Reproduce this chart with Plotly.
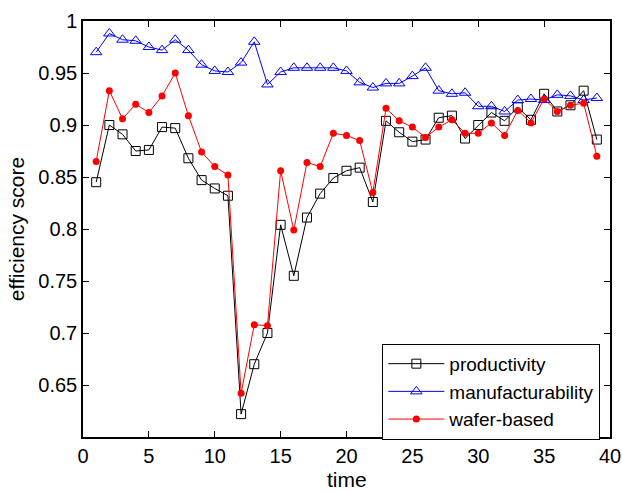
import plotly.graph_objects as go

time = list(range(1, 40))

productivity = [0.845, 0.900, 0.891, 0.875, 0.876, 0.898, 0.897, 0.868, 0.847, 0.839,
                0.832, 0.622, 0.670, 0.700, 0.804, 0.755, 0.811, 0.834, 0.849, 0.856,
                0.859, 0.826, 0.904, 0.893, 0.884, 0.886, 0.907, 0.909, 0.887, 0.900,
                0.912, 0.904, 0.917, 0.905, 0.930, 0.913, 0.919, 0.933, 0.886]

manufacturability = [0.970, 0.988, 0.982, 0.981, 0.975, 0.972, 0.982, 0.972, 0.958, 0.952,
                     0.951, 0.960, 0.980, 0.939, 0.951, 0.955, 0.955, 0.955, 0.955, 0.952,
                     0.941, 0.936, 0.940, 0.940, 0.947, 0.955, 0.933, 0.930, 0.931, 0.918,
                     0.918, 0.913, 0.924, 0.925, 0.924, 0.929, 0.928, 0.924, 0.926]

wafer_based = [0.865, 0.933, 0.906, 0.920, 0.912, 0.928, 0.950, 0.909, 0.874, 0.860,
               0.852, 0.642, 0.708, 0.707, 0.856, 0.799, 0.864, 0.860, 0.892, 0.890,
               0.885, 0.835, 0.916, 0.904, 0.898, 0.888, 0.898, 0.905, 0.892, 0.892,
               0.902, 0.890, 0.914, 0.902, 0.925, 0.913, 0.919, 0.921, 0.870]

x_ticks = [0, 5, 10, 15, 20, 25, 30, 35, 40]
y_ticks = [0.65, 0.7, 0.75, 0.8, 0.85, 0.9, 0.95, 1]
y_tick_text = ["0.65", "0.7", "0.75", "0.8", "0.85", "0.9", "0.95", "1"]

fig = go.Figure()
fig.add_trace(go.Scatter(
    x=time, y=productivity, name="productivity", mode="lines+markers",
    line=dict(color="black", width=1),
    marker=dict(symbol="square-open", size=9, color="black", line=dict(width=1)),
))
fig.add_trace(go.Scatter(
    x=time, y=manufacturability, name="manufacturability", mode="lines+markers",
    line=dict(color="blue", width=1),
    marker=dict(symbol="triangle-up-open", size=10, color="blue", line=dict(width=1)),
))
fig.add_trace(go.Scatter(
    x=time, y=wafer_based, name="wafer-based", mode="lines+markers",
    line=dict(color="red", width=1),
    marker=dict(symbol="circle", size=7, color="red"),
))

axis_common = dict(
    showgrid=False, zeroline=False, showline=True, linecolor="black", linewidth=1.5,
    mirror="allticks", ticks="inside", ticklen=6, tickcolor="black", tickwidth=1,
    tickfont=dict(size=20, color="black"),
)

fig.update_layout(
    width=622, height=492,
    margin=dict(l=83, r=10, t=15, b=55),
    paper_bgcolor="white", plot_bgcolor="white",
    font=dict(family="Liberation Sans, Arial, sans-serif", color="black"),
    xaxis=dict(range=[0, 40], tickvals=x_ticks, automargin=False, **axis_common),
    yaxis=dict(range=[0.6, 1], tickvals=y_ticks, ticktext=y_tick_text,
               title=dict(text="efficiency score", font=dict(size=21), standoff=8),
               **axis_common),
    legend=dict(x=0.568, y=0.224, xanchor="left", yanchor="top",
                bordercolor="black", borderwidth=1, bgcolor="white",
                font=dict(size=19), itemwidth=56, tracegroupgap=0),
    showlegend=True,
    annotations=[dict(text="time", xref="paper", yref="paper", x=0.5, y=0,
                      xanchor="center", yanchor="top", yshift=-29,
                      showarrow=False, font=dict(size=21, color="black"))],
)

fig.write_html("out.html")
